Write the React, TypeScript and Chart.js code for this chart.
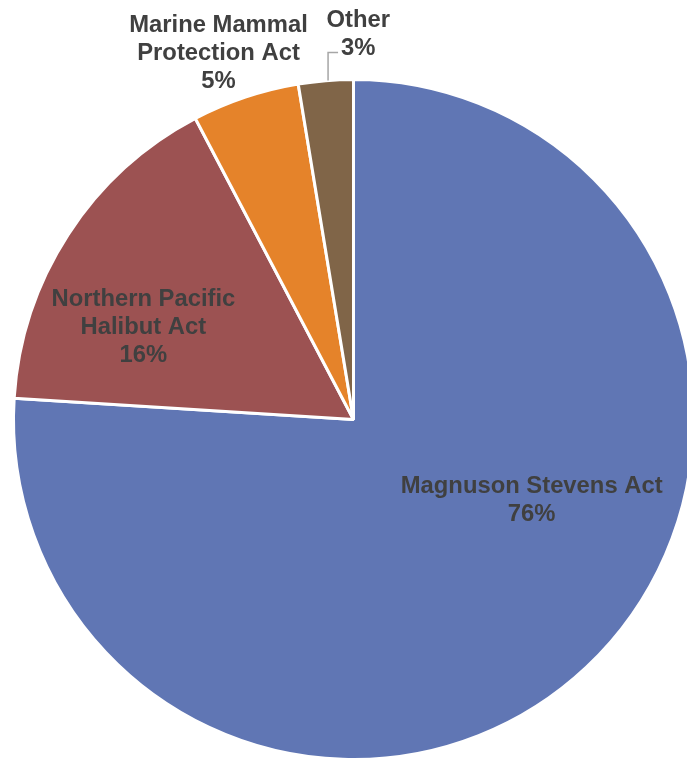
import React, { useEffect, useRef } from "react";
import { Chart, registerables } from "chart.js";

Chart.register(...registerables);

const categories: string[][] = [
  ["Magnuson Stevens Act"],
  ["Northern Pacific", "Halibut Act"],
  ["Marine Mammal", "Protection Act"],
  ["Other"],
];
const values: number[] = [76.0, 16.3, 5.1, 2.6];
const percentLabels: string[] = ["76%", "16%", "5%", "3%"];
const colors: string[] = ["#6076B4", "#9C5252", "#E5832A", "#806548"];

// label block centre, relative to pie centre, in units of radius
const labelOffsets: [number, number][] = [
  [0.524, 0.238],
  [-0.618, -0.272],
  [-0.397, -1.076],
  [0.014, -1.132],
];

const labelPlugin = {
  id: "sliceLabels",
  afterDatasetsDraw(chart: any) {
    const ctx = chart.ctx;
    const meta = chart.getDatasetMeta(0);
    const arc0 = meta.data[0];
    if (!arc0) return;
    const cx = arc0.x;
    const cy = arc0.y;
    const r = arc0.outerRadius;
    const lineH = 28;
    ctx.save();
    ctx.font = "bold 23.8px 'Liberation Sans', Arial, sans-serif";
    ctx.fillStyle = "#404040";
    ctx.textAlign = "center";
    ctx.textBaseline = "middle";
    categories.forEach((lines, i) => {
      const all = [...lines, percentLabels[i]];
      const [ox, oy] = labelOffsets[i];
      const x = cx + ox * r;
      const y0 = cy + oy * r - ((all.length - 1) * lineH) / 2;
      all.forEach((t, k) => ctx.fillText(t, x, y0 + k * lineH));
    });
    // leader line for "Other"
    const [ox, oy] = labelOffsets[3];
    const lx = cx + ox * r;
    const ly = cy + oy * r + lineH / 2 + 4;
    const pw = ctx.measureText(percentLabels[3]).width;
    const startX = lx - pw / 2 - 3;
    const endX = startX - 10;
    const dx = endX - cx;
    const endY = cy - Math.sqrt(Math.max(r * r - dx * dx, 0));
    ctx.strokeStyle = "#A6A6A6";
    ctx.lineWidth = 1.5;
    ctx.beginPath();
    ctx.moveTo(startX, ly);
    ctx.lineTo(endX, ly);
    ctx.lineTo(endX, endY);
    ctx.stroke();
    ctx.restore();
  },
};

export default function App() {
  const ref = useRef<HTMLCanvasElement>(null);
  useEffect(() => {
    if (!ref.current) return;
    const chart = new Chart(ref.current, {
      type: "pie",
      data: {
        labels: categories.map((c) => c.join(" ")),
        datasets: [
          {
            data: values,
            backgroundColor: colors,
            borderColor: "#FFFFFF",
            borderWidth: 3,
          },
        ],
      },
      options: {
        animation: false,
        responsive: true,
        maintainAspectRatio: false,
        layout: { padding: { left: 12, right: 13, top: 78, bottom: 79 } },
        plugins: {
          legend: { display: false },
          tooltip: { enabled: false },
        },
      },
      plugins: [labelPlugin],
    });
    return () => chart.destroy();
  }, []);
  return (
    <div
      style={{
        position: "fixed",
        left: 0,
        top: 0,
        width: 687,
        height: 758,
        overflow: "hidden",
        background: "#FFFFFF",
      }}
    >
      <div style={{ position: "absolute", left: 0, top: 0, width: 708, height: 840 }}>
        <canvas ref={ref} />
      </div>
    </div>
  );
}
